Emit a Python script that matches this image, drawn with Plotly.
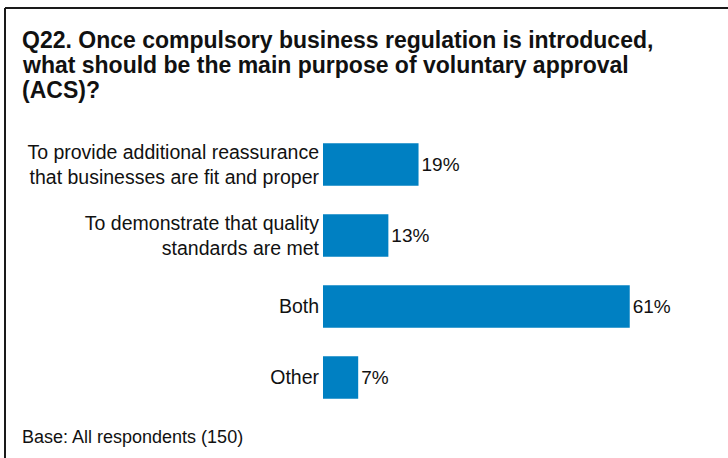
import plotly.graph_objects as go

# Survey responses (Q22), percentages of all respondents
categories = [
    "To provide additional reassurance<br>that businesses are fit and proper",
    "To demonstrate that quality<br>standards are met",
    "Both",
    "Other",
]
values = [19, 13, 61, 7]
value_labels = ["19%", "13%", "61%", "7%"]

title_lines = [
    "Q22. Once compulsory business regulation is introduced,",
    "what should be the main purpose of voluntary approval",
    "(ACS)?",
]
base_text = "Base: All respondents (150)"

FONT = "Liberation Sans, Arial, sans-serif"
INK = "#111111"

W, H = 728, 458
ML, MR, MT, MB = 323, 53, 129, 45
PW, PH = W - ML - MR, H - MT - MB


def px_x(x):
    return (x - ML) / PW


def px_y(y):
    return (H - MB - y) / PH


fig = go.Figure(
    go.Bar(
        x=values,
        y=categories,
        orientation="h",
        marker=dict(color="#0080C2", line=dict(width=0)),
        text=value_labels,
        textposition="outside",
        cliponaxis=False,
        textfont=dict(family=FONT, size=19, color=INK),
        width=0.6,
    )
)

# title, one annotation per line for a tight line spacing
annotations = [
    dict(
        text="<b>" + line + "</b>",
        xref="paper", yref="paper",
        x=px_x(20), y=px_y(40.5 + 25 * i),
        xanchor="left", yanchor="middle",
        align="left", showarrow=False,
        font=dict(family=FONT, size=23, color=INK),
    )
    for i, line in enumerate(title_lines)
]
annotations.append(
    dict(
        text=base_text,
        xref="paper", yref="paper",
        x=px_x(20), y=px_y(437),
        xanchor="left", yanchor="middle",
        align="left", showarrow=False,
        font=dict(family=FONT, size=18, color=INK),
    )
)

fig.update_layout(
    width=W,
    height=H,
    margin=dict(l=ML, r=MR, t=MT, b=MB, pad=0),
    paper_bgcolor="white",
    plot_bgcolor="white",
    showlegend=False,
    font=dict(family=FONT, size=19, color=INK),
    xaxis=dict(range=[0, 70], visible=False, fixedrange=True),
    yaxis=dict(
        categoryorder="array",
        categoryarray=categories[::-1],
        showgrid=False,
        showline=False,
        zeroline=False,
        ticks="",
        ticklabelstandoff=3,
        tickfont=dict(family=FONT, size=19.5, color=INK),
        fixedrange=True,
    ),
    annotations=annotations,
    shapes=[
        dict(type="line", xref="paper", yref="paper",
             x0=px_x(5), x1=px_x(W + 5), y0=px_y(8), y1=px_y(8),
             line=dict(color="#1a1a1a", width=2)),
        dict(type="line", xref="paper", yref="paper",
             x0=px_x(5), x1=px_x(5), y0=px_y(8), y1=px_y(H + 5),
             line=dict(color="#1a1a1a", width=2)),
    ],
)

fig.write_html("out.html")
